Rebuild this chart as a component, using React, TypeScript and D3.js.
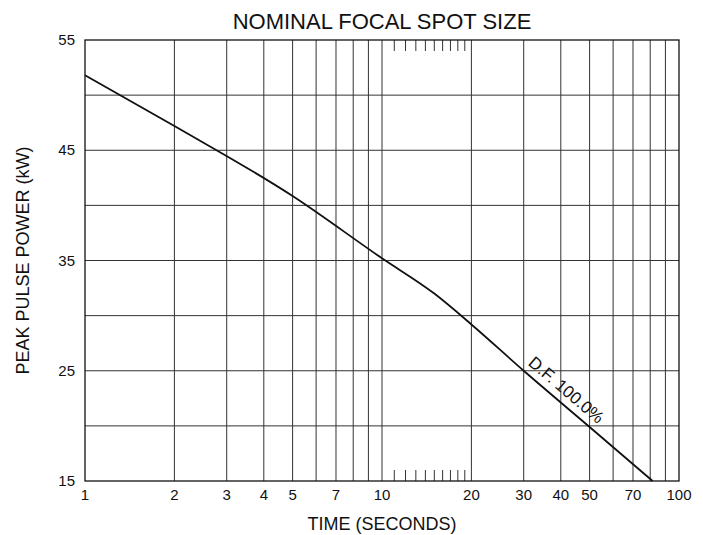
import React from 'react';
import * as d3 from 'd3';

// curve (time in seconds, peak pulse power in kW)
const timeValues = [1, 2, 5, 10, 15, 20, 30, 50, 81.5];
const powerValues = [51.8, 47.2, 40.85, 35.2, 32.0, 29.2, 25, 19.9, 15];

const xTickValues = [1, 2, 3, 4, 5, 7, 10, 20, 30, 40, 50, 70, 100];
const yTickValues = [15, 25, 35, 45, 55];
const yGridValues = [20, 25, 30, 35, 40, 45, 50];
const xGridValues = [2, 3, 4, 5, 6, 7, 8, 9, 10, 20, 30, 40, 50, 60, 70, 80, 90];
const minorTicks = [11, 12, 13, 14, 15, 16, 17, 18, 19];

const chartTitle = 'NOMINAL FOCAL SPOT SIZE';
const xTitle = 'TIME (SECONDS)';
const yTitle = 'PEAK PULSE POWER (kW)';
const curveLabel = 'D.F. 100.0%';

const W = 703;
const H = 535;
const margin = { top: 40, right: 24, bottom: 54, left: 85 };
const font = '"Liberation Sans", Arial, sans-serif';

const App = () => {
    const x = d3.scaleLog()
        .domain([1, 100])
        .range([margin.left, W - margin.right]);

    const y = d3.scaleLinear()
        .domain([15, 55])
        .range([H - margin.bottom, margin.top]);

    const points = timeValues.map((t, i) => [t, powerValues[i]] as [number, number]);

    const line = d3.line<[number, number]>()
        .x(d => x(d[0]))
        .y(d => y(d[1]))
        .curve(d3.curveMonotoneX);

    const [x0, x1] = x.range();
    const [yb, yt] = y.range();

    // label placed along the curve between 30 s and 50 s
    const la = [x(30), y(25)];
    const lb = [x(50), y(19.9)];
    const angle = Math.atan2(lb[1] - la[1], lb[0] - la[0]) * 180 / Math.PI;
    const lx = (la[0] + lb[0]) / 2 + 2;
    const ly = (la[1] + lb[1]) / 2;

    return (
        <svg width={W} height={H} style={{ position: 'absolute', left: 0, top: 0, background: '#fff' }}
             fontFamily={font}>
            <text x={382} y={29} textAnchor="middle" fontSize={22} fill="#111">{chartTitle}</text>

            {yGridValues.map(v => (
                <line key={'hy' + v} x1={x0} x2={x1} y1={y(v)} y2={y(v)} stroke="#333" strokeWidth={1} />
            ))}
            {xGridValues.map(v => (
                <line key={'vx' + v} x1={x(v)} x2={x(v)} y1={yt} y2={yb} stroke="#333" strokeWidth={1} />
            ))}
            {minorTicks.map(v => (
                <g key={'mt' + v}>
                    <line x1={x(v)} x2={x(v)} y1={yt} y2={yt + 11} stroke="#333" strokeWidth={1} />
                    <line x1={x(v)} x2={x(v)} y1={yb} y2={yb - 11} stroke="#333" strokeWidth={1} />
                </g>
            ))}

            <rect x={x0} y={yt} width={x1 - x0} height={yb - yt} fill="none" stroke="#111" strokeWidth={1.3} />

            <path d={line(points) || ''} fill="none" stroke="#111" strokeWidth={1.8} />

            <text x={lx} y={ly} transform={`rotate(${angle},${lx},${ly}) translate(0,-6)`}
                  textAnchor="middle" fontSize={17} fill="#111">{curveLabel}</text>

            {yTickValues.map(v => (
                <text key={'yl' + v} x={x0 - 10} y={y(v) + 5} textAnchor="end" fontSize={15} fill="#111">{v}</text>
            ))}
            {xTickValues.map(v => (
                <text key={'xl' + v} x={x(v)} y={yb + 19} textAnchor="middle" fontSize={15} fill="#111">{v}</text>
            ))}

            <text x={382} y={530} textAnchor="middle" fontSize={18} fill="#111">{xTitle}</text>
            <text transform={`translate(29,${(yt + yb) / 2}) rotate(-90)`} textAnchor="middle"
                  fontSize={18} fill="#111">{yTitle}</text>
        </svg>
    );
};

export default App;
